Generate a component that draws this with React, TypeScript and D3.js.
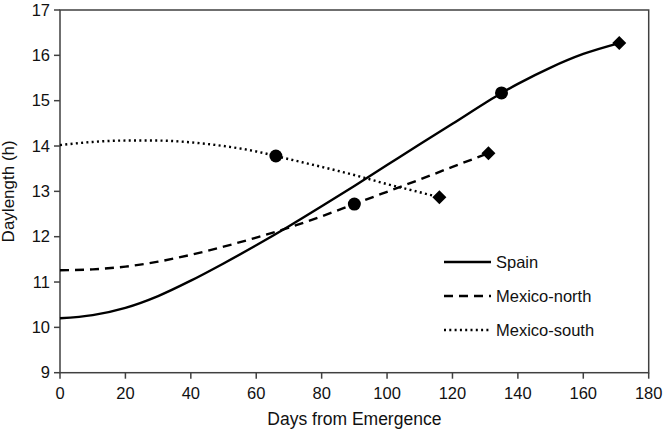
import React from "react";
import * as d3 from "d3";

const spainDays = [0, 10, 20, 30, 40, 50, 60, 70, 80, 90, 100, 110, 120, 130, 135, 140, 150, 160, 171];
const spainHours = [10.2, 10.27, 10.43, 10.69, 11.03, 11.41, 11.81, 12.23, 12.67, 13.12, 13.58, 14.04, 14.49, 14.95, 15.17, 15.37, 15.73, 16.03, 16.27];

const northDays = [0, 10, 20, 30, 40, 50, 60, 70, 80, 90, 100, 110, 120, 131];
const northHours = [11.26, 11.28, 11.34, 11.45, 11.6, 11.78, 11.98, 12.2, 12.45, 12.72, 12.99, 13.26, 13.54, 13.84];

const southDays = [0, 10, 20, 30, 40, 50, 60, 66, 70, 80, 90, 100, 110, 116];
const southHours = [14.02, 14.09, 14.12, 14.12, 14.08, 14.0, 13.88, 13.78, 13.71, 13.54, 13.36, 13.16, 12.98, 12.87];

const circleMarkers = [
  [135, 15.17],
  [90, 12.72],
  [66, 13.78],
];
const diamondMarkers = [
  [171, 16.27],
  [131, 13.84],
  [116, 12.87],
];

const xTicks = [0, 20, 40, 60, 80, 100, 120, 140, 160, 180];
const yTicks = [9, 10, 11, 12, 13, 14, 15, 16, 17];

const seriesNames = ["Spain", "Mexico-north", "Mexico-south"];

export default function App() {
  const W = 666, H = 433;
  const left = 60, right = 648.7, top = 10, bottom = 372.7;
  const x = d3.scaleLinear().domain([0, 180]).range([left, right]);
  const y = d3.scaleLinear().domain([9, 17]).range([bottom, top]);
  const line = d3
    .line<[number, number]>()
    .x((d) => x(d[0]))
    .y((d) => y(d[1]))
    .curve(d3.curveMonotoneX);
  const zip = (a: number[], b: number[]) => a.map((v, i) => [v, b[i]] as [number, number]);
  const font = "'Liberation Sans', Arial, sans-serif";
  const axisColor = "#404040";
  const styles = [
    { dash: undefined, width: 2.4 },
    { dash: "9 6", width: 2.4 },
    { dash: "2 3.3", width: 2.4 },
  ];
  const data = [zip(spainDays, spainHours), zip(northDays, northHours), zip(southDays, southHours)];
  const legendY = [262, 296, 330];
  return (
    <svg width={W} height={H} style={{ position: "absolute", left: 0, top: 0, background: "#fff" }} fontFamily={font}>
      <rect x={left} y={top} width={right - left} height={bottom - top} fill="none" stroke={axisColor} strokeWidth={1.5} />
      {yTicks.map((t) => (
        <g key={"y" + t}>
          <line x1={left - 6} x2={left} y1={y(t)} y2={y(t)} stroke={axisColor} strokeWidth={1.5} />
          <text x={left - 10} y={y(t)} dy="0.35em" textAnchor="end" fontSize={16.5} fill="#111">{t}</text>
        </g>
      ))}
      {xTicks.map((t) => (
        <g key={"x" + t}>
          <line x1={x(t)} x2={x(t)} y1={bottom} y2={bottom + 6} stroke={axisColor} strokeWidth={1.5} />
          <text x={x(t)} y={399} textAnchor="middle" fontSize={16.5} fill="#111">{t}</text>
        </g>
      ))}
      <text x={(left + right) / 2} y={425} textAnchor="middle" fontSize={17.5} fill="#111">Days from Emergence</text>
      <text transform={`translate(14,${(top + bottom) / 2}) rotate(-90)`} textAnchor="middle" fontSize={17} fill="#111">Daylength (h)</text>
      {data.map((d, i) => (
        <path key={"s" + i} d={line(d) || ""} fill="none" stroke="#000" strokeWidth={styles[i].width} strokeDasharray={styles[i].dash} />
      ))}
      {circleMarkers.map((m, i) => (
        <circle key={"c" + i} cx={x(m[0])} cy={y(m[1])} r={6.5} fill="#000" />
      ))}
      {diamondMarkers.map((m, i) => {
        const cx = x(m[0]), cy = y(m[1]), s = 7;
        return <path key={"d" + i} d={`M${cx},${cy - s}L${cx + s},${cy}L${cx},${cy + s}L${cx - s},${cy}Z`} fill="#000" />;
      })}
      {seriesNames.map((n, i) => (
        <g key={"l" + i}>
          <line x1={444} x2={491} y1={legendY[i]} y2={legendY[i]} stroke="#000" strokeWidth={styles[i].width} strokeDasharray={styles[i].dash} />
          <text x={496} y={legendY[i]} dy="0.35em" fontSize={16.5} fill="#111">{n}</text>
        </g>
      ))}
    </svg>
  );
}
